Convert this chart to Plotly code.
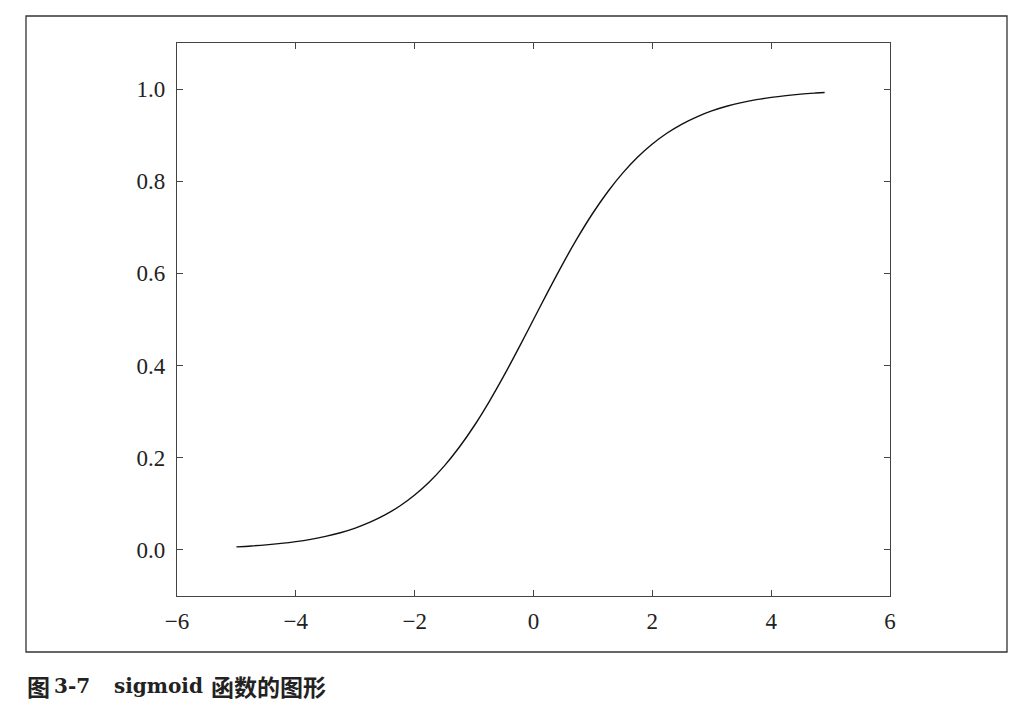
import plotly.graph_objects as go

# values
x_vals = [-5.0, -4.75, -4.5, -4.25, -4.0, -3.75, -3.5, -3.25, -3.0, -2.75, -2.5, -2.25,
          -2.0, -1.75, -1.5, -1.25, -1.0, -0.75, -0.5, -0.25, 0.0, 0.25, 0.5, 0.75,
          1.0, 1.25, 1.5, 1.75, 2.0, 2.25, 2.5, 2.75, 3.0, 3.25, 3.5, 3.75, 4.0,
          4.25, 4.5, 4.75, 4.9]
y_vals = [0.0067, 0.0086, 0.0110, 0.0141, 0.0180, 0.0230, 0.0293, 0.0373, 0.0474,
          0.0601, 0.0759, 0.0953, 0.1192, 0.1480, 0.1824, 0.2227, 0.2689, 0.3208,
          0.3775, 0.4378, 0.5000, 0.5622, 0.6225, 0.6792, 0.7311, 0.7773, 0.8176,
          0.8520, 0.8808, 0.9047, 0.9241, 0.9399, 0.9526, 0.9627, 0.9707, 0.9770,
          0.9820, 0.9859, 0.9890, 0.9914, 0.9926]

x_ticks = [-6, -4, -2, 0, 2, 4, 6]
x_tick_labels = ["\u22126", "\u22124", "\u22122", "0", "2", "4", "6"]
y_ticks = [0.0, 0.2, 0.4, 0.6, 0.8, 1.0]
y_tick_labels = ["0.0", "0.2", "0.4", "0.6", "0.8", "1.0"]

# caption pieces: (text, is_cjk, left edge in px)
caption_parts = [("图", True, 25), ("3-7", False, 52), ("sigmoid", False, 112),
                 ("函数的图形", True, 209)]

OFF = 8  # page body margin
W, H = 1025, 713
L, R, T, B = 177 - OFF, 890 - OFF, 43 - OFF, 596 - OFF
pw, ph = R - L, B - T

def px(x):
    return (x - OFF - L) / pw

def py(y):
    return (B - (y - OFF)) / ph

fig = go.Figure()
fig.add_trace(go.Scatter(x=x_vals, y=y_vals, mode="lines",
                         line=dict(color="#111111", width=1.4, shape="spline"),
                         hoverinfo="skip", showlegend=False))

axis_common = dict(showgrid=False, zeroline=False, showline=True, linecolor="#444444",
                   linewidth=1.3, mirror="ticks", ticks="inside", ticklen=6,
                   tickwidth=1, tickcolor="#444444",
                   tickfont=dict(family="Liberation Serif, DejaVu Serif, serif",
                                 size=23, color="#222222"))

fig.update_xaxes(range=[-6, 6], tickvals=x_ticks, ticktext=x_tick_labels,
                 ticklabelstandoff=4, **axis_common)
fig.update_yaxes(range=[-0.1, 1.1], tickvals=y_ticks, ticktext=y_tick_labels,
                 ticklabelstandoff=6, **axis_common)

fig.add_shape(type="rect", xref="paper", yref="paper",
              x0=px(26), x1=px(1007), y0=py(652), y1=py(16),
              line=dict(color="#333333", width=1.3), fillcolor="rgba(0,0,0,0)", layer="below")

cjk_font = dict(family="Noto Sans CJK SC, sans-serif", size=23, color="#222222")
lat_font = dict(family="DejaVu Serif, Liberation Serif, serif", size=20, color="#222222")
for text, is_cjk, left in caption_parts:
    fig.add_annotation(x=px(left), y=py(686), xref="paper", yref="paper", xanchor="left",
                       yanchor="middle", showarrow=False, text="<b>" + text + "</b>",
                       font=cjk_font if is_cjk else lat_font)

fig.update_layout(width=W, height=H, margin=dict(l=L, r=W - R, t=T, b=H - B),
                  plot_bgcolor="white", paper_bgcolor="white")

fig.write_html("out.html")
